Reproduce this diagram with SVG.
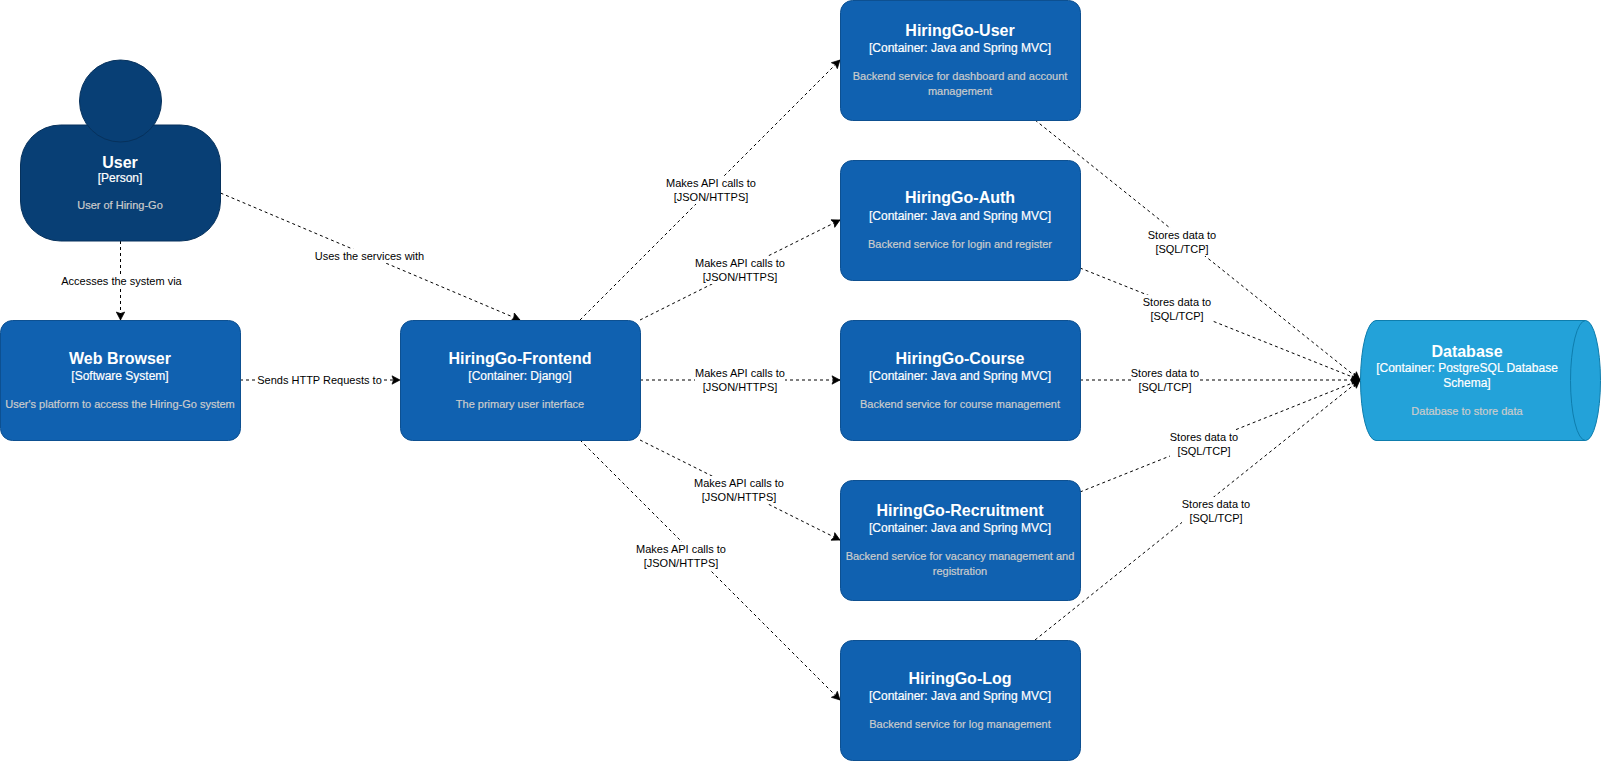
<svg xmlns="http://www.w3.org/2000/svg" width="1601" height="761" viewBox="0 0 1601 761">
<style>
text{font-family:"Liberation Sans",Arial,sans-serif;text-anchor:middle}
.b{fill:#1061B0;stroke:#0D5091;stroke-width:1}
.p{fill:#083F75;stroke:#06315C;stroke-width:1}
.d{fill:#23A2D9;stroke:#0E7DAD;stroke-width:1}
.t{font-size:16px;font-weight:bold;fill:#fff}
.s{font-size:12px;fill:#fff;stroke:#fff;stroke-width:.2px}
.x{font-size:11px;fill:#ccc;stroke:#ccc;stroke-width:.2px}
.c{fill:none;stroke:#000;stroke-width:1;stroke-dasharray:3 3;marker-end:url(#a)}
.l rect{fill:#fff}
.l text{font-size:11px;fill:#000}
</style>
<defs><marker id="a" markerUnits="userSpaceOnUse" markerWidth="11" markerHeight="11" refX="9" refY="5.500" orient="auto" viewBox="0 0 11 11"><path d="M1 1.300L9 5.500L1 9.700L2.500 5.500Z" fill="#000" stroke="#000" stroke-width=".7"/></marker></defs>
<rect width="1601" height="761" fill="#fff"/>
<g id="connectors">
<path class="c" d="M120.500 241V320"/>
<path class="c" d="M220.500 193L520 320"/>
<path class="c" d="M240 380H400"/>
<path class="c" d="M580 320L840 60"/>
<path class="c" d="M640 320L840 220"/>
<path class="c" d="M640 380H840"/>
<path class="c" d="M640 440L840 540"/>
<path class="c" d="M580 440L840 700"/>
<path class="c" d="M1035 120L1360 380"/>
<path class="c" d="M1080 268L1360 380"/>
<path class="c" d="M1080 380H1360"/>
<path class="c" d="M1080 492L1360 380"/>
<path class="c" d="M1035 640L1360 380"/>
<g class="l">
<rect x="61" y="274" width="121" height="14"/><text x="121.500" y="285">Accesses the system via</text>
<rect x="315" y="249" width="110" height="14"/><text x="369.500" y="260">Uses the services with</text>
<rect x="257" y="373" width="125" height="14"/><text x="319.500" y="384">Sends HTTP Requests to</text>
<rect x="666" y="176" width="90" height="28"/><text x="711" y="187">Makes API calls to</text><text x="711" y="201">[JSON/HTTPS]</text>
<rect x="695" y="256" width="90" height="28"/><text x="740" y="267">Makes API calls to</text><text x="740" y="281">[JSON/HTTPS]</text>
<rect x="695" y="366" width="90" height="28"/><text x="740" y="377">Makes API calls to</text><text x="740" y="391">[JSON/HTTPS]</text>
<rect x="694" y="476" width="90" height="28"/><text x="739" y="487">Makes API calls to</text><text x="739" y="501">[JSON/HTTPS]</text>
<rect x="636" y="542" width="90" height="28"/><text x="681" y="553">Makes API calls to</text><text x="681" y="567">[JSON/HTTPS]</text>
<rect x="1148" y="228" width="68" height="28"/><text x="1182" y="239">Stores data to</text><text x="1182" y="253">[SQL/TCP]</text>
<rect x="1143" y="295" width="68" height="28"/><text x="1177" y="306">Stores data to</text><text x="1177" y="320">[SQL/TCP]</text>
<rect x="1131" y="366" width="68" height="28"/><text x="1165" y="377">Stores data to</text><text x="1165" y="391">[SQL/TCP]</text>
<rect x="1170" y="430" width="68" height="28"/><text x="1204" y="441">Stores data to</text><text x="1204" y="455">[SQL/TCP]</text>
<rect x="1182" y="497" width="68" height="28"/><text x="1216" y="508">Stores data to</text><text x="1216" y="522">[SQL/TCP]</text>
</g>
</g>
<g id="user"><rect class="p" x="20.500" y="125" width="200" height="116" rx="40"/><circle class="p" cx="120.500" cy="101" r="41"/>
<text class="t" x="120" y="167.500">User</text><text class="s" x="120" y="182">[Person]</text><text class="x" x="120" y="209">User of Hiring-Go</text></g>
<g id="web-browser"><rect class="b" x="0.500" y="320.500" width="240" height="120" rx="12"/>
<text class="t" x="120" y="363.500">Web Browser</text><text class="s" x="120" y="380">[Software System]</text><text class="x" x="120" y="408">User's platform to access the Hiring-Go system</text></g>
<g id="frontend"><rect class="b" x="400.500" y="320.500" width="240" height="120" rx="12"/>
<text class="t" x="520" y="363.500">HiringGo-Frontend</text><text class="s" x="520" y="380">[Container: Django]</text><text class="x" x="520" y="408">The primary user interface</text></g>
<g id="hg-user"><rect class="b" x="840.500" y="0.500" width="240" height="120" rx="12"/>
<text class="t" x="960" y="36">HiringGo-User</text><text class="s" x="960" y="52">[Container: Java and Spring MVC]</text><text class="x" x="960" y="80">Backend service for dashboard and account</text><text class="x" x="960" y="95">management</text></g>
<g id="hg-auth"><rect class="b" x="840.500" y="160.500" width="240" height="120" rx="12"/>
<text class="t" x="960" y="203">HiringGo-Auth</text><text class="s" x="960" y="220">[Container: Java and Spring MVC]</text><text class="x" x="960" y="248">Backend service for login and register</text></g>
<g id="hg-course"><rect class="b" x="840.500" y="320.500" width="240" height="120" rx="12"/>
<text class="t" x="960" y="363.500">HiringGo-Course</text><text class="s" x="960" y="380">[Container: Java and Spring MVC]</text><text class="x" x="960" y="408">Backend service for course management</text></g>
<g id="hg-recruitment"><rect class="b" x="840.500" y="480.500" width="240" height="120" rx="12"/>
<text class="t" x="960" y="516">HiringGo-Recruitment</text><text class="s" x="960" y="532">[Container: Java and Spring MVC]</text><text class="x" x="960" y="560">Backend service for vacancy management and</text><text class="x" x="960" y="575">registration</text></g>
<g id="hg-log"><rect class="b" x="840.500" y="640.500" width="240" height="120" rx="12"/>
<text class="t" x="960" y="683.500">HiringGo-Log</text><text class="s" x="960" y="700">[Container: Java and Spring MVC]</text><text class="x" x="960" y="728">Backend service for log management</text></g>
<g id="database"><path class="d" d="M1376 320.500H1585.500A15 60 0 0 1 1585.500 440.500H1376A15.500 60 0 0 1 1376 320.500Z"/><path class="d" style="fill:none" d="M1585.500 320.500A15 60 0 0 0 1585.500 440.500"/>
<text class="t" x="1467" y="356.500">Database</text><text class="s" x="1467" y="372">[Container: PostgreSQL Database</text><text class="s" x="1467" y="387">Schema]</text><text class="x" x="1467" y="415">Database to store data</text></g>
</svg>
